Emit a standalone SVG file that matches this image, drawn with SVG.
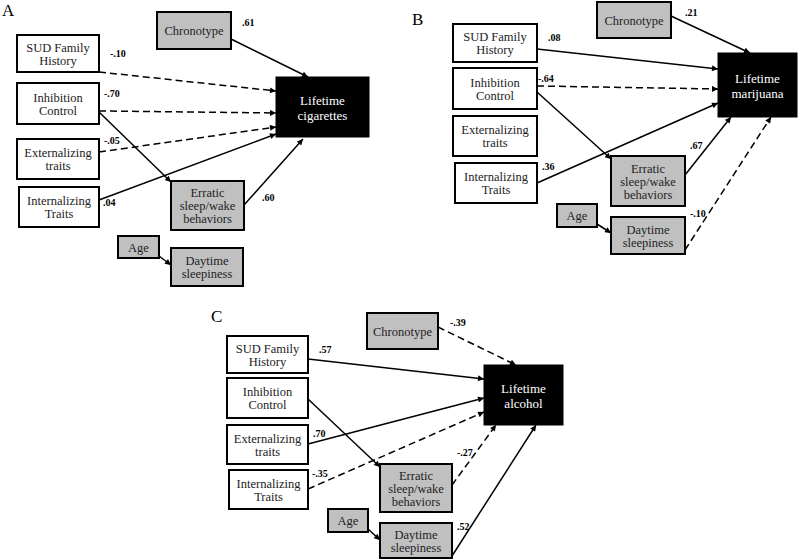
<svg xmlns="http://www.w3.org/2000/svg" width="800" height="560" viewBox="0 0 800 560">
<defs>
<marker id="ah" viewBox="0 0 10 10" refX="10" refY="5" markerWidth="7" markerHeight="6" markerUnits="userSpaceOnUse" orient="auto">
<path d="M0,0 L10,5 L0,10 z" fill="#000"/>
</marker>
</defs>
<style>
.b{fill:#fff;stroke:#000;stroke-width:2}
.g{fill:#c0c0c0;stroke:#000;stroke-width:2}
.k{fill:#000;stroke:#000;stroke-width:1}
.t{font-family:"Liberation Serif","Times New Roman",serif;font-size:12.5px;fill:#222;text-anchor:middle}
.w{font-family:"Liberation Serif","Times New Roman",serif;font-size:13px;fill:#fff;text-anchor:middle}
.c{font-family:"Liberation Serif","Times New Roman",serif;font-size:10px;font-weight:bold;fill:#000}
.p{font-family:"Liberation Serif","Times New Roman",serif;font-size:17px;fill:#000}
.s{stroke:#000;stroke-width:1.5;fill:none;marker-end:url(#ah)}
.d{stroke:#000;stroke-width:1.5;fill:none;stroke-dasharray:7 4;marker-end:url(#ah)}
</style>
<rect width="800" height="560" fill="#fff"/>
<text class="p" x="2" y="16">A</text>
<text class="p" x="412" y="25">B</text>
<text class="p" x="211" y="322">C</text>

<g id="connectors">
<!-- Panel A -->
<line class="d" x1="99" y1="72" x2="276" y2="91"/>
<line class="d" x1="99" y1="111" x2="276" y2="113"/>
<line class="d" x1="99" y1="152" x2="276" y2="127"/>
<line class="s" x1="99" y1="200" x2="276" y2="134"/>
<line class="s" x1="99" y1="112" x2="171" y2="182"/>
<line class="s" x1="231" y1="39" x2="308" y2="77"/>
<line class="s" x1="244" y1="205" x2="303" y2="139"/>
<line class="s" x1="159" y1="256" x2="171" y2="265"/>
<!-- Panel B -->
<line class="s" x1="671" y1="16" x2="750" y2="53"/>
<line class="s" x1="537" y1="49" x2="718" y2="69"/>
<line class="d" x1="537" y1="86" x2="718" y2="89"/>
<line class="s" x1="537" y1="92" x2="611" y2="159"/>
<line class="s" x1="537" y1="183" x2="718" y2="103"/>
<line class="s" x1="685" y1="175" x2="731" y2="117"/>
<line class="d" x1="685" y1="250" x2="771" y2="117"/>
<line class="s" x1="597" y1="224" x2="611" y2="233"/>
<!-- Panel C -->
<line class="d" x1="438" y1="327" x2="516" y2="365"/>
<line class="s" x1="308" y1="359" x2="484" y2="379"/>
<line class="s" x1="308" y1="399" x2="380" y2="467"/>
<line class="s" x1="308" y1="444" x2="484" y2="398"/>
<line class="d" x1="308" y1="489" x2="484" y2="412"/>
<line class="d" x1="452" y1="485" x2="496" y2="425"/>
<line class="s" x1="452" y1="556" x2="536" y2="425"/>
<line class="s" x1="368" y1="529" x2="380" y2="540"/>
</g>

<g id="coefficients">
<text class="c" x="110" y="57">-.10</text>
<text class="c" x="242" y="26">.61</text>
<text class="c" x="104" y="97">-.70</text>
<text class="c" x="104" y="144">-.05</text>
<text class="c" x="103" y="206">.04</text>
<text class="c" x="262" y="201">.60</text>
<text class="c" x="685" y="16">.21</text>
<text class="c" x="548" y="41">.08</text>
<text class="c" x="538" y="82">-.64</text>
<text class="c" x="542" y="170">.36</text>
<text class="c" x="690" y="149">.67</text>
<text class="c" x="690" y="217">-.10</text>
<text class="c" x="450" y="326">-.39</text>
<text class="c" x="319" y="353">.57</text>
<text class="c" x="313" y="437">.70</text>
<text class="c" x="312" y="477">-.35</text>
<text class="c" x="457" y="456">-.27</text>
<text class="c" x="457" y="530">.52</text>
</g>

<!-- Panel A nodes -->
<g id="a-sud"><rect class="b" x="17" y="35" width="82" height="37"/><text class="t" x="58" y="51.5">SUD Family</text><text class="t" x="58" y="64.5">History</text></g>
<g id="a-inhib"><rect class="b" x="17" y="83" width="82" height="41"/><text class="t" x="58" y="101.5">Inhibition</text><text class="t" x="58" y="114.5">Control</text></g>
<g id="a-ext"><rect class="b" x="17" y="139" width="82" height="40"/><text class="t" x="58" y="157">Externalizing</text><text class="t" x="58" y="170">traits</text></g>
<g id="a-int"><rect class="b" x="19" y="187" width="80" height="40"/><text class="t" x="59" y="205">Internalizing</text><text class="t" x="59" y="218">Traits</text></g>
<g id="a-age"><rect class="g" x="118" y="236" width="41" height="22"/><text class="t" x="138.5" y="251.5">Age</text></g>
<g id="a-erratic"><rect class="g" x="171" y="181" width="73" height="49"/><text class="t" x="207.5" y="197">Erratic</text><text class="t" x="207.5" y="210">sleep/wake</text><text class="t" x="207.5" y="223">behaviors</text></g>
<g id="a-day"><rect class="g" x="171" y="248" width="72" height="38"/><text class="t" x="207" y="265">Daytime</text><text class="t" x="207" y="278">sleepiness</text></g>
<g id="a-chrono"><rect class="g" x="157" y="12" width="74" height="37"/><text class="t" x="194" y="35">Chronotype</text></g>
<g id="a-out"><rect class="k" x="276" y="77" width="93" height="60"/><text class="w" x="322.5" y="105">Lifetime</text><text class="w" x="322.5" y="120">cigarettes</text></g>

<!-- Panel B nodes -->
<g id="b-sud"><rect class="b" x="453" y="24" width="84" height="38"/><text class="t" x="495" y="41">SUD Family</text><text class="t" x="495" y="54">History</text></g>
<g id="b-inhib"><rect class="b" x="453" y="68" width="84" height="41"/><text class="t" x="495" y="86.5">Inhibition</text><text class="t" x="495" y="99.5">Control</text></g>
<g id="b-ext"><rect class="b" x="453" y="116" width="84" height="40"/><text class="t" x="495" y="134">Externalizing</text><text class="t" x="495" y="147">traits</text></g>
<g id="b-int"><rect class="b" x="455" y="163" width="82" height="40"/><text class="t" x="496" y="181">Internalizing</text><text class="t" x="496" y="194">Traits</text></g>
<g id="b-age"><rect class="g" x="557" y="204" width="40" height="23"/><text class="t" x="577" y="220">Age</text></g>
<g id="b-erratic"><rect class="g" x="611" y="156" width="74" height="50"/><text class="t" x="648" y="172.5">Erratic</text><text class="t" x="648" y="185.5">sleep/wake</text><text class="t" x="648" y="198.5">behaviors</text></g>
<g id="b-day"><rect class="g" x="611" y="217" width="74" height="37"/><text class="t" x="648" y="233.5">Daytime</text><text class="t" x="648" y="246.5">sleepiness</text></g>
<g id="b-chrono"><rect class="g" x="597" y="2" width="74" height="36"/><text class="t" x="634" y="24.5">Chronotype</text></g>
<g id="b-out"><rect class="k" x="718" y="53" width="79" height="64"/><text class="w" x="757.5" y="83">Lifetime</text><text class="w" x="757.5" y="98">marijuana</text></g>

<!-- Panel C nodes -->
<g id="c-sud"><rect class="b" x="227" y="336" width="81" height="37"/><text class="t" x="267.5" y="352.5">SUD Family</text><text class="t" x="267.5" y="365.5">History</text></g>
<g id="c-inhib"><rect class="b" x="227" y="378" width="81" height="40"/><text class="t" x="267.5" y="396">Inhibition</text><text class="t" x="267.5" y="409">Control</text></g>
<g id="c-ext"><rect class="b" x="227" y="425" width="81" height="39"/><text class="t" x="267.5" y="442.5">Externalizing</text><text class="t" x="267.5" y="455.5">traits</text></g>
<g id="c-int"><rect class="b" x="229" y="470" width="79" height="39"/><text class="t" x="268.5" y="487.5">Internalizing</text><text class="t" x="268.5" y="500.5">Traits</text></g>
<g id="c-age"><rect class="g" x="328" y="509" width="40" height="23"/><text class="t" x="348" y="525">Age</text></g>
<g id="c-erratic"><rect class="g" x="380" y="464" width="72" height="48"/><text class="t" x="416" y="479.5">Erratic</text><text class="t" x="416" y="492.5">sleep/wake</text><text class="t" x="416" y="505.5">behaviors</text></g>
<g id="c-day"><rect class="g" x="380" y="523" width="72" height="35"/><text class="t" x="416" y="538.5">Daytime</text><text class="t" x="416" y="551.5">sleepiness</text></g>
<g id="c-chrono"><rect class="g" x="367" y="313" width="71" height="36"/><text class="t" x="402.5" y="335.5">Chronotype</text></g>
<g id="c-out"><rect class="k" x="484" y="365" width="79" height="60"/><text class="w" x="523.5" y="393">Lifetime</text><text class="w" x="523.5" y="408">alcohol</text></g>
</svg>
